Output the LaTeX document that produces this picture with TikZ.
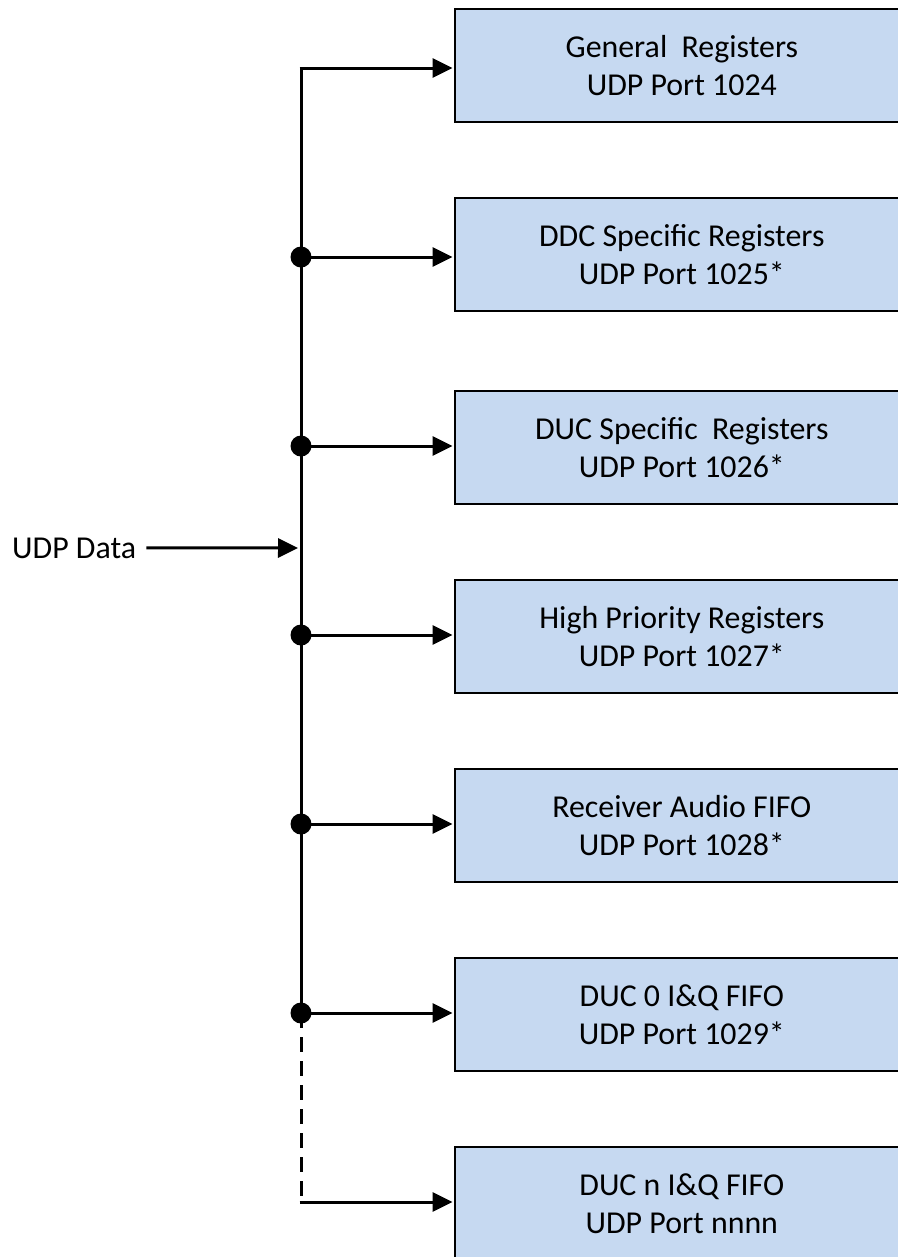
\documentclass[tikz,border=0pt]{standalone}
\usepackage{fontspec}
\setmainfont{Carlito}
\usetikzlibrary{arrows.meta}
\definecolor{boxblue}{RGB}{198,217,241}
\begin{document}
\begin{tikzpicture}[x=1bp,y=-1bp,
  txt/.style={font=\fontsize{32}{38}\selectfont},
  regbox/.style={txt,draw=black,line width=1.6bp,fill=boxblue,minimum width=454bp,minimum height=113bp,anchor=north west,align=center,inner sep=0pt},
  wire/.style={line width=3bp},
  arr/.style={wire,-{Triangle[length=20bp,width=19bp]},shorten >=1.5bp},
  dot/.style={circle,fill=black,minimum size=21bp,inner sep=0pt}
]
\useasboundingbox (0,0) rectangle (898,1257);
\clip (0,0) rectangle (898,1257);

\node[regbox] (b1) at (454,8) {General\ \ Registers\\UDP Port 1024};
\node[regbox] (b2) at (454,197) {DDC Specific Registers\\UDP Port 1025*};
\node[regbox] (b3) at (454,390) {DUC Specific\ \ Registers\\UDP Port 1026*};
\node[regbox] (b4) at (454,579) {High Priority Registers\\UDP Port 1027*};
\node[regbox] (b5) at (454,768) {Receiver Audio FIFO\\UDP Port 1028*};
\node[regbox] (b6) at (454,957) {DUC 0 I\&Q FIFO\\UDP Port 1029*};
\node[regbox] (b7) at (454,1146) {DUC n I\&Q FIFO\\UDP Port nnnn};

\coordinate (j1) at (301,68);
\coordinate (j2) at (301,257);
\coordinate (j3) at (301,446);
\coordinate (j4) at (301,635);
\coordinate (j5) at (301,824);
\coordinate (j6) at (301,1013);
\coordinate (j7) at (301,1202);
\coordinate (jin) at (301,548);

% bus
\draw[wire,line join=miter] (j6) -- (j1) -- ++(0,0);
\draw[wire,dash pattern=on 15bp off 9bp] (j6) -- (j7);

% arrows to boxes
\foreach \i in {1,...,7}{
  \draw[arr] ([xshift=-1.5bp]j\i) -- (b\i.west |- j\i);
}

% junction dots
\foreach \i in {2,...,6}{
  \node[dot] at (j\i) {};
}

% input
\node[txt,anchor=base west,inner xsep=5bp,inner ysep=0pt] (udp) at (7,558) {UDP Data};
\draw[arr] ([xshift=5bp]udp.east) -- ([xshift=-1.5bp]jin);
\end{tikzpicture}
\end{document}
